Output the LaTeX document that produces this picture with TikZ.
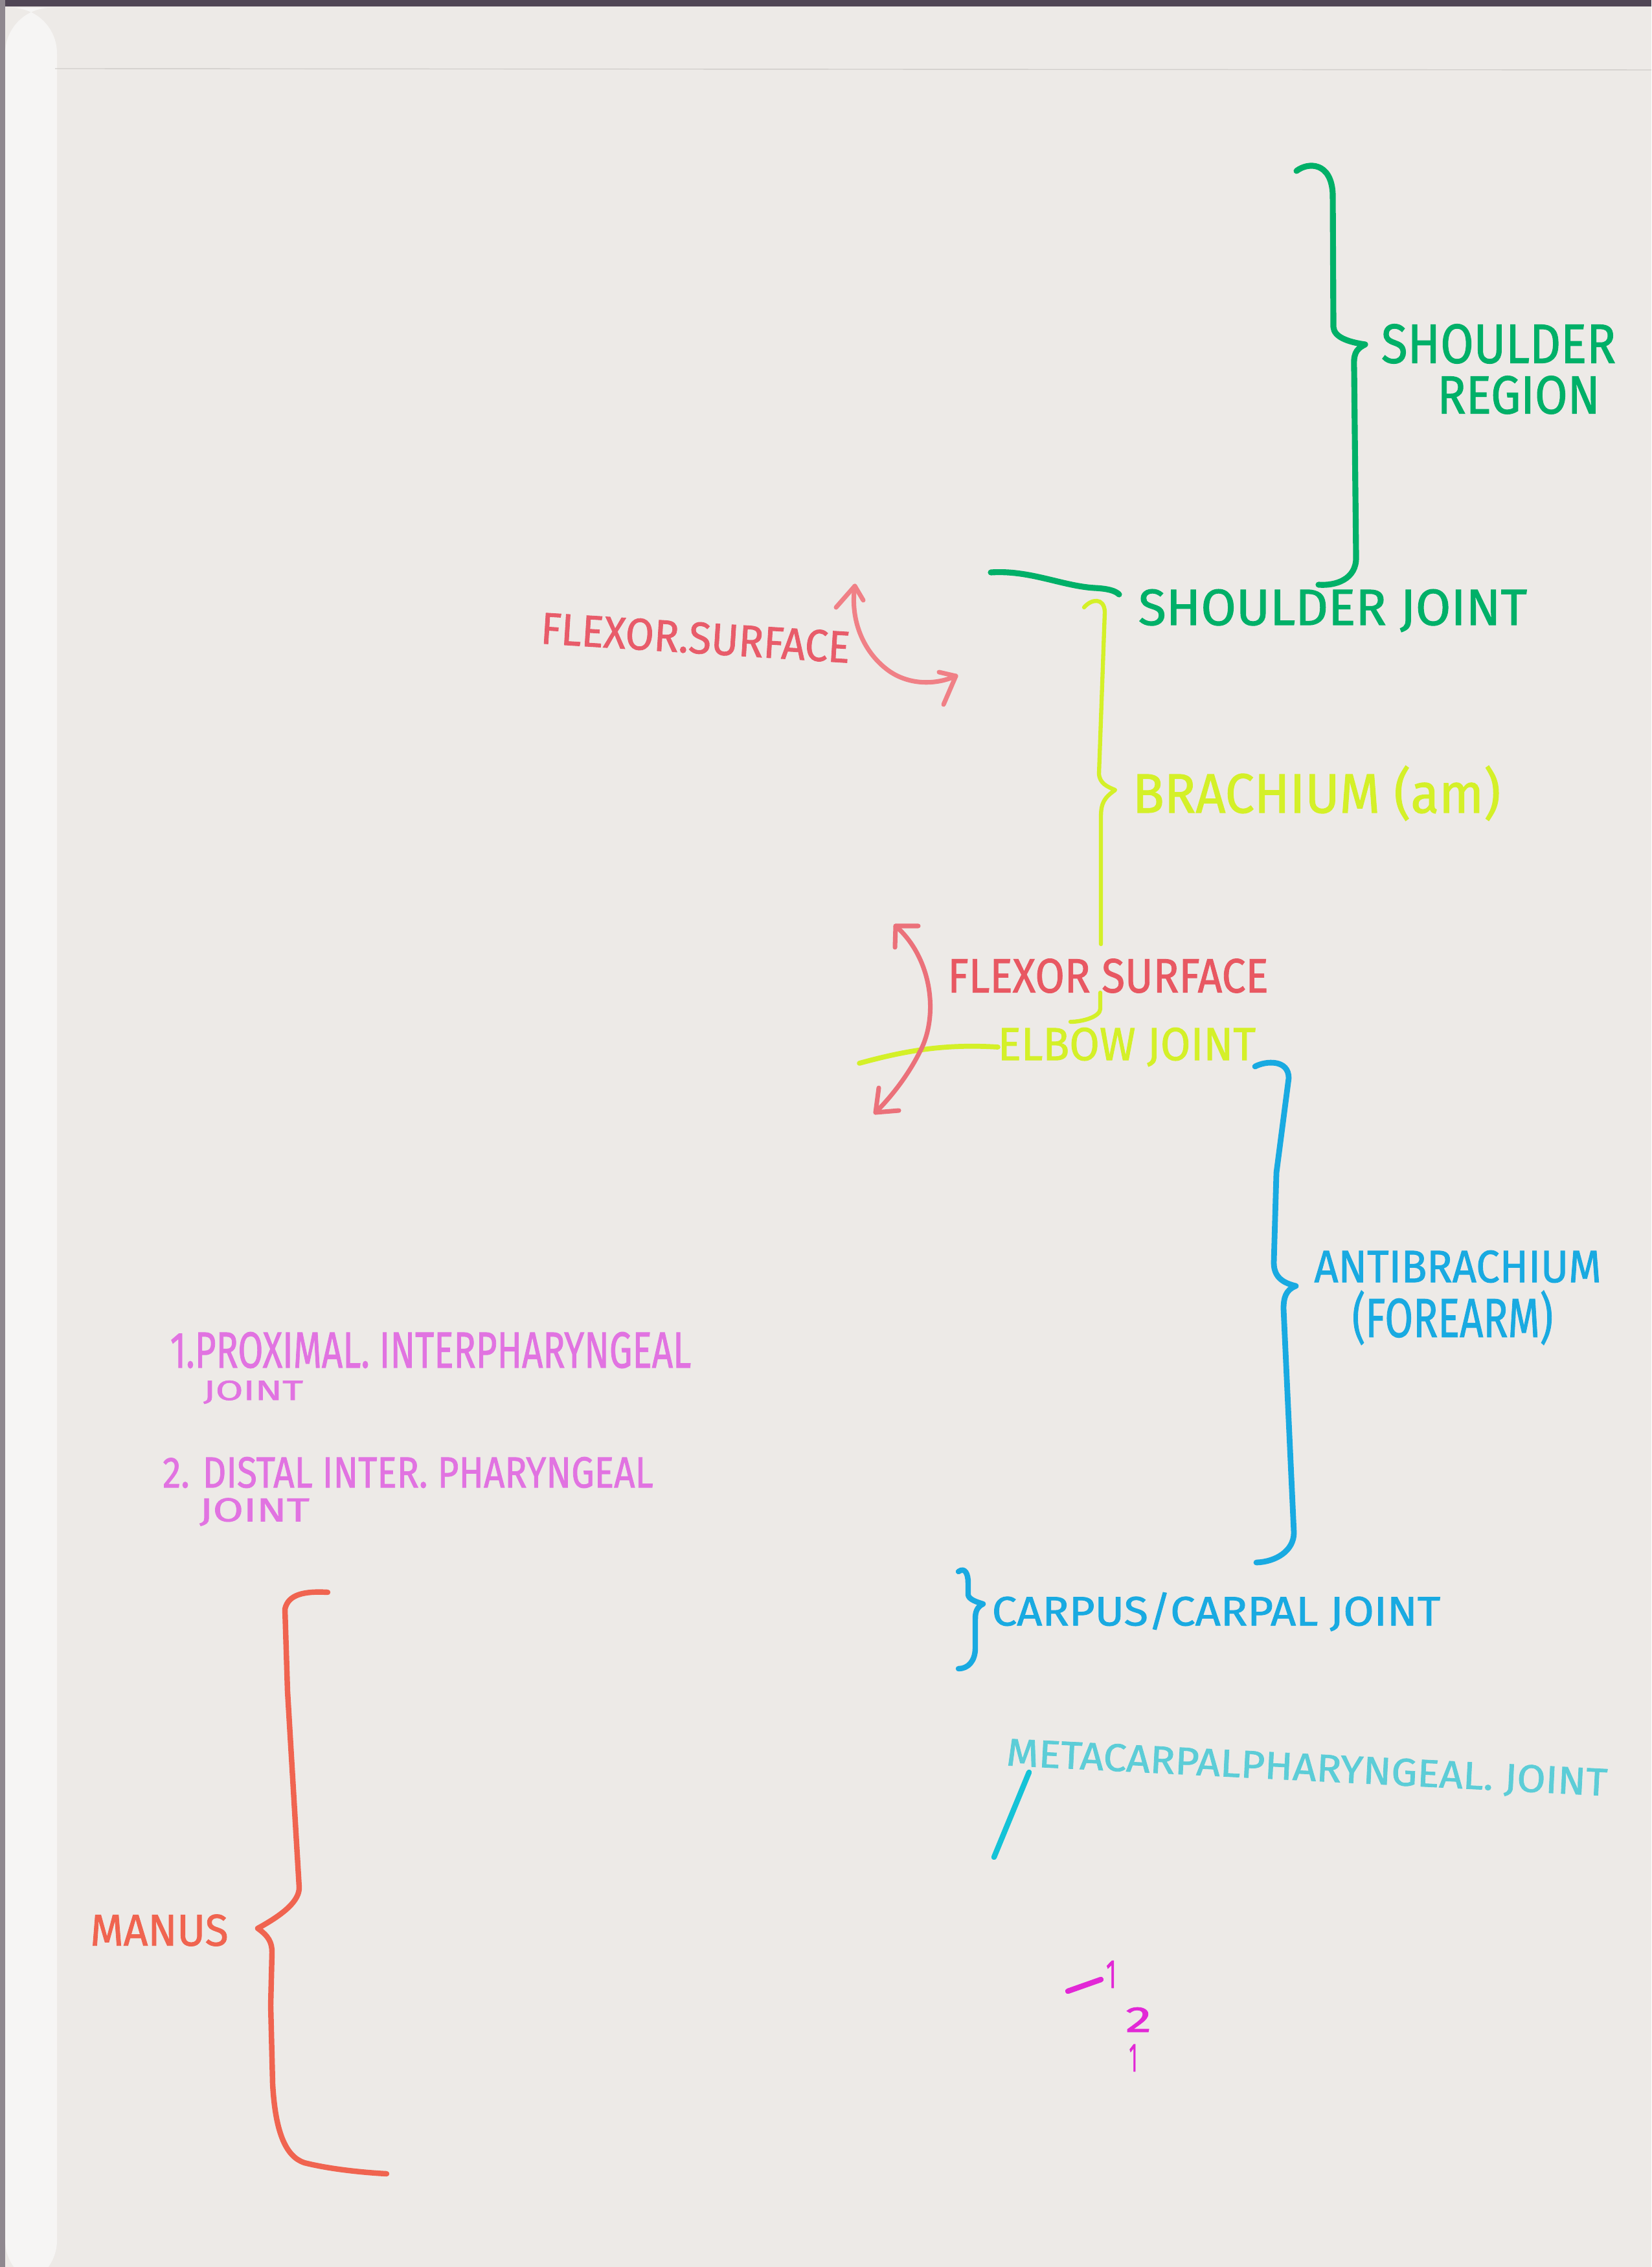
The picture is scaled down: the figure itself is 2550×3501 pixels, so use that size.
\documentclass[tikz,border=0pt]{standalone}
\usepackage{fontspec}
\setmainfont{Fira Sans}[FakeBold=1.3]
\usepackage{graphicx}
\definecolor{paper}{RGB}{237,234,231}
\definecolor{stripw}{RGB}{246,245,244}
\definecolor{darkband}{RGB}{80,70,85}
\definecolor{grn}{RGB}{0,176,104}
\definecolor{flexred}{RGB}{232,92,106}
\definecolor{arrpink}{RGB}{240,128,134}
\definecolor{elbred}{RGB}{232,88,98}
\definecolor{yel}{RGB}{212,240,40}
\definecolor{blu}{RGB}{25,170,225}
\definecolor{cyantxt}{RGB}{92,205,215}
\definecolor{cyanln}{RGB}{20,195,215}
\definecolor{purp}{RGB}{225,115,225}
\definecolor{mag}{RGB}{226,40,214}
\definecolor{manusc}{RGB}{240,100,80}
\newcommand{\fitto}[3]{\resizebox*{#1cm}{#2cm}{#3}}
\tikzset{
  txt/.style={inner sep=0pt, outer sep=0pt, anchor=center},
  pen/.style={line cap=round, line join=round},
}
\begin{document}
\begin{tikzpicture}[x=0.01cm, y=-0.01cm]
\useasboundingbox (0,0) rectangle (2550,3501);
% paper
\fill[paper] (0,0) rectangle (2550,3501);
\fill[darkband] (0,0) rectangle (2550,10);
\fill[darkband!60!paper] (0,0) rectangle (8,3501);
\fill[stripw, rounded corners=20] (8,12) rectangle (88,3530);
\draw[paper!88!black, line width=0.4pt] (85,106) -- (2550,108);

% ---------- texts ----------
\node[txt, text=grn] (sr1) at (2314,531) {\fitto{3.62}{0.61}{SHOULDER}};
\node[txt, text=grn] (sr2) at (2345,610) {\fitto{2.51}{0.59}{REGION}};
\node[txt, text=grn] (sj) at (2058,943) {\fitto{6.0}{0.66}{SHOULDER JOINT}};
\node[txt, text=flexred, rotate=-3.6] (fs1) at (1074,985) {\fitto{4.78}{0.49}{FLEXOR.SURFACE}};
\node[txt, text=yel] (br) at (2033,1225) {\fitto{5.68}{0.85}{BRACHIUM (am)}};
\node[txt, text=elbred] (fs2) at (1711,1507) {\fitto{4.95}{0.53}{FLEXOR SURFACE}};
\node[txt, text=yel] (ej) at (1740,1617) {\fitto{3.98}{0.6}{ELBOW JOINT}};
\node[txt, text=blu] (ab1) at (2251,1956) {\fitto{4.43}{0.5}{ANTIBRACHIUM}};
\node[txt, text=blu] (ab2) at (2243,2035) {\fitto{3.1}{0.84}{(FOREARM)}};
\node[txt, text=blu] (cj) at (1878,2489) {\fitto{6.92}{0.6}{CARPUS/CARPAL JOINT}};
\node[txt, text=cyantxt, rotate=-2.9] (mj) at (2018,2733) {\fitto{9.28}{0.5}{METACARPALPHARYNGEAL. JOINT}};
\node[txt, text=purp] (p1) at (665,2085) {\fitto{8.04}{0.56}{1.PROXIMAL. INTERPHARYNGEAL}};
\node[txt, text=purp] (p1j) at (391,2150) {\fitto{1.54}{0.36}{JOINT}};
\node[txt, text=purp] (p2) at (630,2274) {\fitto{7.57}{0.48}{2. DISTAL INTER. PHARYNGEAL}};
\node[txt, text=purp] (p2j) at (393,2335) {\fitto{1.7}{0.43}{JOINT}};
\node[txt, text=manusc] (mn) at (246,2981) {\fitto{2.13}{0.49}{MANUS}};
\node[txt, text=mag] (m1) at (1716,3049) {\fitto{0.16}{0.42}{1}};
\node[txt, text=mag] (m2) at (1758,3119) {\fitto{0.4}{0.38}{2}};
\node[txt, text=mag] (m3) at (1750,3178) {\fitto{0.13}{0.42}{1}};

% ---------- green: shoulder region brace ----------
\coordinate (gA) at (2002,264);
\coordinate (gCusp) at (2108,532);
\coordinate (gB) at (2036,903);
\draw[pen, grn, line width=2.6pt] (gA) .. controls (2020,250) and (2056,250) .. (2058,300)
  -- (2059,505) .. controls (2060,520) and (2080,528) .. (gCusp)
  .. controls (2092,540) and (2090,548) .. (2091,570)
  -- (2094,860) .. controls (2095,895) and (2062,905) .. (gB);
% shoulder joint line
\coordinate (sjL) at (1530,884);
\coordinate (sjR) at (1728,918);
\draw[pen, grn, line width=2.6pt] (sjL) .. controls (1590,880) and (1640,905) .. (1690,908)
  .. controls (1710,909) and (1722,912) .. (sjR);

% ---------- yellow: brachium brace ----------
\coordinate (yA) at (1674,938);
\coordinate (yCusp) at (1722,1220);
\coordinate (yB) at (1700,1458);
\draw[pen, yel, line width=1.8pt] (yA) .. controls (1685,925) and (1705,922) .. (1706,945)
  -- (1697,1195) .. controls (1698,1210) and (1710,1215) .. (yCusp)
  .. controls (1705,1232) and (1700,1240) .. (1700,1262) -- (yB);
\coordinate (yC) at (1699,1533);
\coordinate (yD) at (1653,1578);
\draw[pen, yel, line width=1.8pt] (yC) -- (1699,1558) .. controls (1699,1570) and (1672,1578) .. (yD);
% elbow line
\coordinate (elL) at (1327,1642);
\draw[pen, yel, line width=2.2pt] (elL) .. controls (1400,1622) and (1460,1612) .. (ej.west);

% ---------- red arrows ----------
\coordinate (r1tip) at (1320,905);
\coordinate (r1end) at (1476,1044);
\draw[pen, arrpink, line width=2pt] (r1tip) .. controls (1312,960) and (1335,1010) .. (1374,1037)
  .. controls (1405,1058) and (1445,1058) .. (r1end);
\draw[pen, arrpink, line width=2pt] (1291,938) -- (r1tip) -- (1333,927);
\draw[pen, arrpink, line width=2pt] (1450,1038) -- (r1end) -- (1457,1088);

\coordinate (r2tip) at (1383,1430);
\coordinate (r2end) at (1352,1718);
\draw[pen, elbred!85!white, line width=2pt] (r2tip) .. controls (1440,1480) and (1450,1570) .. (1420,1625)
  .. controls (1400,1665) and (1372,1698) .. (r2end);
\draw[pen, elbred!85!white, line width=2pt] (1418,1430) -- (r2tip) -- (1382,1463);
\draw[pen, elbred!85!white, line width=2pt] (1357,1680) -- (r2end) -- (1388,1715);

% ---------- blue: antibrachium brace ----------
\coordinate (bA) at (1938,1647);
\coordinate (bCusp) at (2001,1986);
\coordinate (bB) at (1940,2413);
\draw[pen, blu, line width=2.5pt] (bA) .. controls (1955,1638) and (1990,1636) .. (1990,1665)
  -- (1971,1811) -- (1967,1950) .. controls (1967,1975) and (1985,1982) .. (bCusp)
  .. controls (1985,1992) and (1982,2005) .. (1982,2021)
  -- (1998,2367) .. controls (1998,2395) and (1970,2412) .. (bB);
% carpal brace
\coordinate (cA) at (1480,2427);
\coordinate (cCusp) at (1518,2477);
\coordinate (cB) at (1480,2577);
\draw[pen, blu, line width=2.4pt] (cA) .. controls (1490,2420) and (1495,2430) .. (1495,2445)
  -- (1495,2463) .. controls (1496,2470) and (1508,2474) .. (cCusp)
  .. controls (1508,2482) and (1506,2490) .. (1506,2500)
  -- (1506,2545) .. controls (1506,2565) and (1495,2577) .. (cB);

% ---------- cyan pointer ----------
\coordinate (cyTop) at (1589,2737);
\coordinate (cyBot) at (1535,2868);
\draw[pen, cyanln, line width=2.4pt] (cyTop) -- (cyBot);

% ---------- manus brace ----------
\coordinate (mA) at (506,2459);
\coordinate (mCusp) at (398,2978);
\coordinate (mB) at (597,3357);
\draw[pen, manusc, line width=2.4pt] (mA) .. controls (470,2457) and (445,2462) .. (440,2485)
  -- (444,2612) -- (462,2915) .. controls (462,2935) and (440,2955) .. (mCusp)
  .. controls (415,2990) and (420,3000) .. (420,3015)
  -- (418,3097) -- (421,3218) .. controls (425,3290) and (440,3330) .. (470,3340)
  .. controls (510,3350) and (560,3355) .. (mB);

% ---------- magenta marks ----------
\coordinate (dashL) at (1649,3075);
\coordinate (dashR) at (1700,3057);
\draw[pen, mag, line width=2.4pt] (dashL) -- (dashR);
\end{tikzpicture}
\end{document}
